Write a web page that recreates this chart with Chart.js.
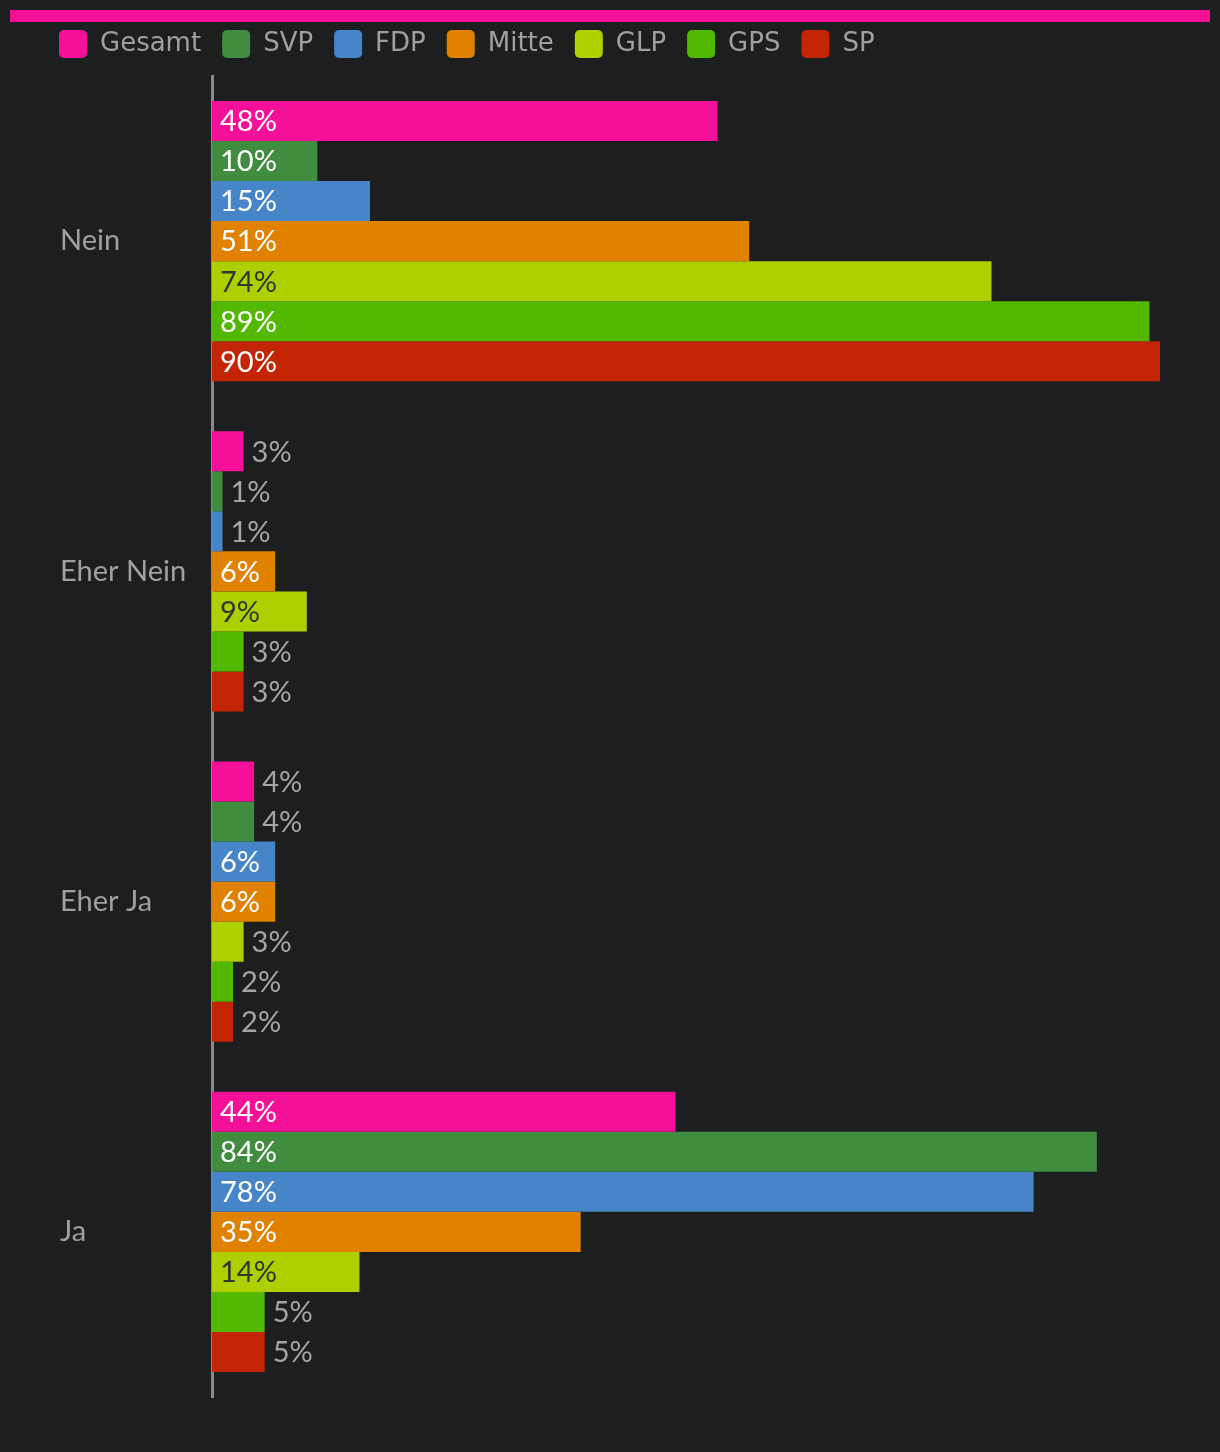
<!DOCTYPE html>
<html>
<head>
<meta charset="utf-8">
<script src="https://cdn.jsdelivr.net/npm/chart.js@4/dist/chart.umd.min.js"></script>
<style>
  html, body { margin: 0; padding: 0; background: #1d1e20; }
  #wrap { position: relative; width: 1220px; height: 1452px; }
  #topbar { position: absolute; left: 10px; top: 10px; width: 1200px; height: 12px; background: #f5109a; }
</style>
</head>
<body>
<div id="wrap">
  <div id="topbar"></div>
  <canvas id="chart" width="1220" height="1452"></canvas>
</div>
<script>
const categories = ['Nein', 'Eher Nein', 'Eher Ja', 'Ja'];
const parties = ['Gesamt', 'SVP', 'FDP', 'Mitte', 'GLP', 'GPS', 'SP'];
const colors = ['#f5109a', '#408d40', '#4686c8', '#e18100', '#acd000', '#52b800', '#c42505'];

const gesamt = [48, 3, 4, 44];
const svp = [10, 1, 4, 84];
const fdp = [15, 1, 6, 78];
const mitte = [51, 6, 6, 35];
const glp = [74, 9, 3, 14];
const gps = [89, 3, 2, 5];
const sp = [90, 3, 2, 5];

const values = [gesamt, svp, fdp, mitte, glp, gps, sp];
const labelFont = '29px Lato, "Noto Sans", sans-serif';

// draws the percent labels, inside the bar when it fits, otherwise behind it
const valueLabels = {
    id: 'valueLabels',
    afterDatasetsDraw(chart) {
        const ctx = chart.ctx;
        ctx.save();
        ctx.font = labelFont;
        ctx.textBaseline = 'middle';
        ctx.textAlign = 'left';
        chart.data.datasets.forEach((ds, i) => {
            chart.getDatasetMeta(i).data.forEach((bar, j) => {
                const txt = ds.data[j] + '%';
                const w = ctx.measureText(txt).width;
                const barW = bar.x - bar.base;
                if (w + 16 <= barW) {
                    ctx.fillStyle = parties[i] === 'GLP' ? '#33352f' : '#ffffff';
                    ctx.fillText(txt, bar.base + 8, bar.y + 1);
                } else {
                    ctx.fillStyle = '#a5a5a5';
                    ctx.fillText(txt, bar.x + 8, bar.y + 1);
                }
            });
        });
        ctx.restore();
    }
};

// shift the category labels a bit to the right, like the original
const shiftLabels = {
    id: 'shiftLabels',
    afterLayout(chart) {
        chart.scales.y.left += 22;
    }
};

new Chart(document.getElementById('chart'), {
    type: 'bar',
    data: {
        labels: categories,
        datasets: parties.map((p, i) => ({
            label: p,
            data: values[i],
            backgroundColor: colors[i],
            borderWidth: 0,
            categoryPercentage: 0.8485,
            barPercentage: 1
        }))
    },
    options: {
        indexAxis: 'y',
        responsive: false,
        animation: false,
        layout: { padding: { left: 38, right: 60, top: 9, bottom: 55 } },
        plugins: {
            legend: {
                align: 'start',
                labels: {
                    boxWidth: 28,
                    boxHeight: 28,
                    padding: 21,
                    color: '#a0a0a0',
                    font: { family: 'DejaVu Sans', size: 26 },
                    generateLabels(chart) {
                        return chart.data.datasets.map((ds, i) => ({
                            text: ds.label,
                            fillStyle: ds.backgroundColor,
                            strokeStyle: ds.backgroundColor,
                            lineWidth: 0,
                            borderRadius: 5,
                            fontColor: '#a0a0a0',
                            datasetIndex: i
                        }));
                    }
                }
            },
            tooltip: { enabled: false }
        },
        scales: {
            x: {
                position: 'top',
                min: 0,
                max: 90,
                afterFit(axis) { axis.height = 8; },
                ticks: { display: false },
                grid: { display: false, drawTicks: false },
                border: { display: false }
            },
            y: {
                afterFit(axis) { axis.width = 174; },
                grid: { display: false, drawTicks: false },
                border: { display: true, color: '#8a8a8a', width: 3 },
                ticks: {
                    color: '#a0a0a0',
                    crossAlign: 'far',
                    font: { family: 'Lato, "Noto Sans", sans-serif', size: 29 }
                }
            }
        }
    },
    plugins: [valueLabels, shiftLabels]
});
</script>
</body>
</html>
